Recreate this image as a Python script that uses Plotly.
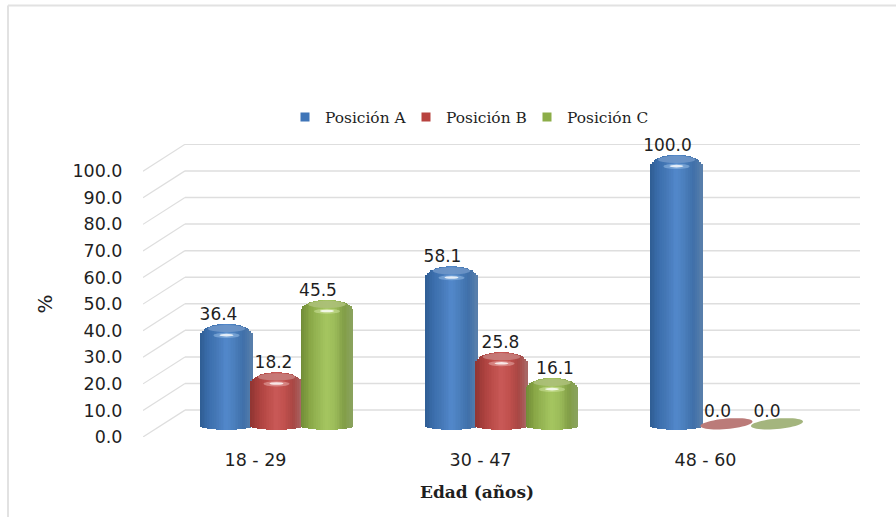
import plotly.graph_objects as go
import numpy as np

categories = ["18 - 29", "30 - 47", "48 - 60"]
posicion_a = [36.4, 58.1, 100.0]
posicion_b = [18.2, 25.8, 0.0]
posicion_c = [45.5, 16.1, 0.0]
y_ticks = [0, 10, 20, 30, 40, 50, 60, 70, 80, 90, 100]

W, H = 896, 517
L, R, T, B = 143, 860, 143.5, 436.7
PX_X = 225.0
PX_Y = 26.6 / 10
def dx(p): return p / PX_X
def dy(p): return p / PX_Y

TXT = "#1f1f1f"
SANS = "DejaVu Sans"
SERIF = "DejaVu Serif"
GRID = "#dedede"

series = [
    dict(name="Posición A", values=posicion_a, off=-50, lab=[-8, -9, -9],
         stops=["#2f5d94", "#3b6eac", "#4679b8", "#5288cb", "#4a7ebb", "#3f6fa9", "#5a80ab"],
         cap="#7097c8", flat="#6f96c8", glow="#a9cdf0", key="#3f75b8"),
    dict(name="Posición B", values=posicion_b, off=0, lab=[-3, -1, -9],
         stops=["#8f3532", "#aa403d", "#bc4d4a", "#c95957", "#c0504d", "#a84643", "#a86a68"],
         cap="#c77f7d", flat="#bb7b79", glow="#f2c4c2", key="#b8423f"),
    dict(name="Posición C", values=posicion_c, off=50.5, lab=[-9, 3, -10],
         stops=["#6f8936", "#88a645", "#97b755", "#a5c660", "#9bbb59", "#829e47", "#8ba35f"],
         cap="#adc07a", flat="#a4b57e", glow="#dcedb0", key="#8cad48"),
]

SHIFT = dy(B - 425.5)
BAR_X = 21 / PX_X
HW = dx(26)
HH = dy(5.2)
BOTTOM = dy(4)
SHOULDER = dy(12)
N = 30

def strip_color(stops, u):
    pos = np.linspace(0, 1, len(stops))
    rgb = np.array([[int(c[i:i + 2], 16) for i in (1, 3, 5)] for c in stops], dtype=float)
    return "rgb({},{},{})".format(*[int(round(np.interp(u, pos, rgb[:, k]))) for k in range(3)])

def tilted_ellipse(cx, cy, a, b, slope):
    th = np.linspace(0, 2 * np.pi, 48, endpoint=False)
    xe = cx + a * np.cos(th)
    ye = cy + b * np.sin(th) + slope * a * np.cos(th)
    return "M " + " L ".join(f"{xx:.5f},{yy:.4f}" for xx, yy in zip(xe, ye)) + " Z"

fig = go.Figure()
shapes = []

for v in y_ticks:
    shapes.append(dict(type="line", xref="x", yref="y", layer="below",
                       x0=-0.5, y0=v, x1=-0.5 + dx(42), y1=v + dy(26.9),
                       line=dict(color=GRID, width=1.2)))
    shapes.append(dict(type="line", xref="x", yref="y", layer="below",
                       x0=-0.5 + dx(42), y0=v + dy(26.9), x1=-0.5 + dx(R - L), y1=v + dy(26.9),
                       line=dict(color=GRID, width=1.5)))

xs = np.arange(len(categories))
for s in series:
    vals = np.array(s["values"], dtype=float)
    cx = xs + BAR_X + dx(s["off"])
    for i in range(N):
        u = (i + 0.5) / N
        t = 2 * u - 1
        arc = np.sqrt(1 - t * t)
        low = SHIFT - BOTTOM * arc
        drop = SHOULDER * (1 - arc)
        fig.add_trace(go.Bar(
            x=cx + t * HW,
            y=[v + SHIFT + HH - drop - low if v > 0 else None for v in vals],
            base=[low] * len(vals),
            width=2 * HW / N * 1.5,
            marker=dict(color=strip_color(s["stops"], u), line=dict(width=0)),
            name=s["name"], showlegend=False, hoverinfo="skip"))
    # legend key of the series
    fig.add_trace(go.Scatter(x=[None], y=[None], mode="markers", name=s["name"],
                             marker=dict(symbol="square", size=9, color=s["key"]), hoverinfo="skip"))
    for c, v in zip(cx, vals):
        top = v + SHIFT
        if v == 0:
            shapes.append(dict(type="path", xref="x", yref="y",
                               path=tilted_ellipse(c, top + dy(2), HW, HH, dy(2.2) / HW),
                               fillcolor=s["flat"], line=dict(width=0)))
        else:
            shapes.append(dict(type="circle", xref="x", yref="y", x0=c - HW * .72, x1=c + HW * .72,
                               y0=top - HH * .6, y1=top + HH * .8, fillcolor=s["cap"],
                               opacity=0.85, line=dict(width=0)))
            shapes.append(dict(type="circle", xref="x", yref="y", x0=c - dx(13), x1=c + dx(13),
                               y0=top - dy(9), y1=top - dy(3.8), fillcolor=s["glow"],
                               opacity=0.45, line=dict(width=0)))
            shapes.append(dict(type="circle", xref="x", yref="y", x0=c - dx(7), x1=c + dx(7),
                               y0=top - dy(7.4), y1=top - dy(4.8), fillcolor="#ffffff",
                               opacity=0.8, line=dict(width=0)))
    fig.add_trace(go.Scatter(
        x=cx + np.array([dx(p) for p in s["lab"]]), y=vals + SHIFT + dy(13.5), mode="text",
        text=[f"{v:.1f}" for v in vals], textposition="middle center", cliponaxis=False,
        textfont=dict(family=SANS, size=17, color=TXT),
        showlegend=False, hoverinfo="skip"))

def px(p): return (p - L) / (R - L)
def py(p): return (B - p) / (B - T)
shapes.append(dict(type="line", xref="paper", yref="paper", x0=px(8), x1=px(8), y0=py(5), y1=py(517),
                   line=dict(color="#e2e2e2", width=2)))
shapes.append(dict(type="line", xref="paper", yref="paper", x0=px(8), x1=px(896), y0=py(5), y1=py(5),
                   line=dict(color="#e2e2e2", width=2)))

fig.update_layout(
    width=W, height=H, autosize=False,
    margin=dict(l=L, r=W - R, t=T, b=H - B, pad=0),
    paper_bgcolor="white", plot_bgcolor="white",
    barmode="overlay", bargap=0, shapes=shapes,
    legend=dict(orientation="h", x=px(285), xanchor="left", y=py(117), yanchor="middle",
                font=dict(family=SERIF, size=15.4, color=TXT),
                entrywidth=76, entrywidthmode="pixels", traceorder="normal",
                itemclick=False, itemdoubleclick=False, bgcolor="rgba(0,0,0,0)"),
    xaxis=dict(range=[-0.5, -0.5 + dx(R - L)], tickmode="array", tickvals=list(xs), ticktext=categories,
               showgrid=False, zeroline=False, showline=False, ticks="outside", ticklen=7,
               tickcolor="rgba(0,0,0,0)", tickfont=dict(family=SANS, size=17.5, color=TXT), automargin=False),
    yaxis=dict(range=[0, (B - T) / PX_Y], tickmode="array", tickvals=y_ticks,
               ticktext=[f"{v:.1f}" for v in y_ticks], showgrid=False, zeroline=False, showline=False,
               ticks="outside", ticklen=16, tickcolor="rgba(0,0,0,0)",
               tickfont=dict(family=SANS, size=17.5, color=TXT), automargin=False),
    annotations=[
        dict(text="%", xref="paper", yref="paper", x=px(45), y=py(304), showarrow=False, textangle=-90,
             xanchor="center", yanchor="middle", font=dict(family=SANS, size=20, color=TXT)),
        dict(text="<b>Edad (años)</b>", xref="paper", yref="paper", x=px(477), y=py(492), showarrow=False,
             xanchor="center", yanchor="middle", font=dict(family=SERIF, size=17, color=TXT)),
    ],
)

fig.write_html("out.html", config=dict(displayModeBar=False),
               post_script="document.body.style.margin='0';")
